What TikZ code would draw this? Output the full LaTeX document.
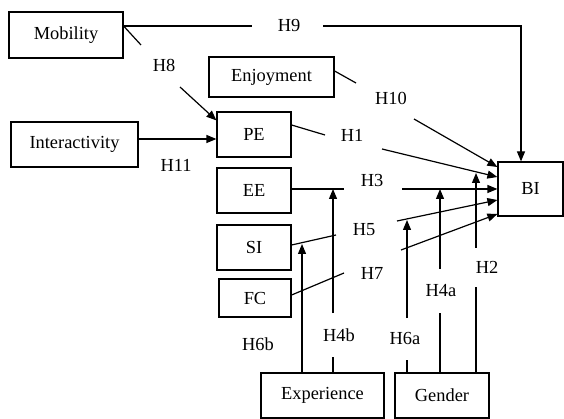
\documentclass[tikz,border=0pt]{standalone}
\usepackage{fontspec}
\setmainfont{Liberation Serif}
\usetikzlibrary{arrows.meta}
\begin{document}
\begin{tikzpicture}[x=1pt,y=-1pt,
  box/.style={draw,line width=1.2pt,inner sep=0pt,minimum width=#1},
  ln/.style={line width=1.2pt},
  arr/.style={line width=1.2pt,-{Triangle[length=10pt,width=8pt]}},
  lab/.style={inner sep=0pt},
  font=\fontsize{18.4}{22}\selectfont]
\useasboundingbox (0,0) rectangle (564,419);
% boxes
\node[box=114pt,minimum height=46pt] (mob) at (66,35) {Mobility};
\node[box=127pt,minimum height=45pt] (inter) at (74.5,144.5) {Interactivity};
\node[box=125pt,minimum height=40pt] (enj) at (271.5,77) {Enjoyment};
\node[box=74pt,minimum height=45pt] (pe) at (254,134.5) {PE};
\node[box=74pt,minimum height=45pt] (ee) at (254,190.5) {EE};
\node[box=74pt,minimum height=45pt] (si) at (254,247.5) {SI};
\node[box=72pt,minimum height=38pt] (fc) at (255,298) {FC};
\node[box=123pt,minimum height=45pt] (exp) at (322.5,395.5) {Experience};
\node[box=94pt,minimum height=45pt] (gen) at (442,395.5) {Gender};
\node[box=65pt,minimum height=54pt] (bi) at (530.5,189) {BI};
% labels
\node[lab] (l9) at (289,26) {H9};
\node[lab] (l8) at (164,65) {H8};
\node[lab] (l11) at (176,165) {H11};
\node[lab] (l10) at (391,98) {H10};
\node[lab] (l1) at (352,135) {H1};
\node[lab] (l3) at (372,181) {H3};
\node[lab] (l5) at (364,230) {H5};
\node[lab] (l7) at (372,273) {H7};
\node[lab] (l6b) at (258,344) {H6b};
\node[lab] (l4b) at (339,335) {H4b};
\node[lab] (l6a) at (405,338) {H6a};
\node[lab] (l4a) at (441,291) {H4a};
\node[lab] (l2) at (487,267) {H2};
% gap coordinates
\coordinate (h9a) at (252,26);
\coordinate (h9b) at (323,26);
\coordinate (h9c) at (521,26);
\coordinate (h8a) at (141,45);
\coordinate (h8b) at (180,87);
\coordinate (h10a) at (356,83);
\coordinate (h10b) at (414,119);
\coordinate (h1a) at (325,135);
\coordinate (h1b) at (382,149);
\coordinate (h3a) at (344,189);
\coordinate (h3b) at (402,189);
\coordinate (h5a) at (336,235);
\coordinate (h5b) at (397,221);
\coordinate (h7a) at (344,273);
\coordinate (h7b) at (401,250);
\coordinate (h6bt) at (302,244);
\coordinate (h4ba) at (333,357);
\coordinate (h4bb) at (333,313);
\coordinate (h6aa) at (407,360);
\coordinate (h6ab) at (407,318);
\coordinate (h6at) at (407,220);
\coordinate (h4aa) at (440,313);
\coordinate (h4ab) at (440,269);
\coordinate (h2a) at (476,287);
\coordinate (h2b) at (476,248);
\coordinate (h2t) at (476,173);
% H9
\draw[ln] (mob.east |- h9a) -- (h9a);
\draw[arr] (h9b) -- (h9c) -- (h9c |- bi.north);
% H8
\draw[ln] (mob.east |- h9a) -- (h8a);
\draw[arr] (h8b) -- ([yshift=-9pt]pe.north west);
% H11
\draw[arr] (inter.east |- 0,139) -- (pe.west |- 0,139);
% H10
\draw[ln] (enj.east |- 0,71) -- (h10a);
\draw[arr] (h10b) -- (bi.west |- 0,167);
% H1
\draw[ln] (pe.east |- 0,125) -- (h1a);
\draw[arr] (h1b) -- (bi.west |- 0,177);
% H3
\draw[ln] (ee.east |- h3a) -- (h3a);
\draw[arr] (h3b) -- (bi.west |- h3b);
% H5
\draw[ln] (si.east |- 0,245) -- (h5a);
\draw[arr] (h5b) -- (bi.west |- 0,200);
% H7
\draw[ln] (fc.east |- 0,295) -- (h7a);
\draw[arr] (h7b) -- (bi.west |- 0,214);
% moderators: Experience
\draw[arr] (exp.north -| h6bt) -- (h6bt);
\draw[ln] (exp.north -| h4ba) -- (h4ba);
\draw[arr] (h4bb) -- (h4bb |- h3a);
% moderators: Gender
\draw[ln] (gen.north -| h6aa) -- (h6aa);
\draw[arr] (h6ab) -- (h6at);
\draw[ln] (gen.north -| h4aa) -- (h4aa);
\draw[arr] (h4ab) -- (h4ab |- h3a);
\draw[ln] (gen.north -| h2a) -- (h2a);
\draw[arr] (h2b) -- (h2t);
\end{tikzpicture}
\end{document}
